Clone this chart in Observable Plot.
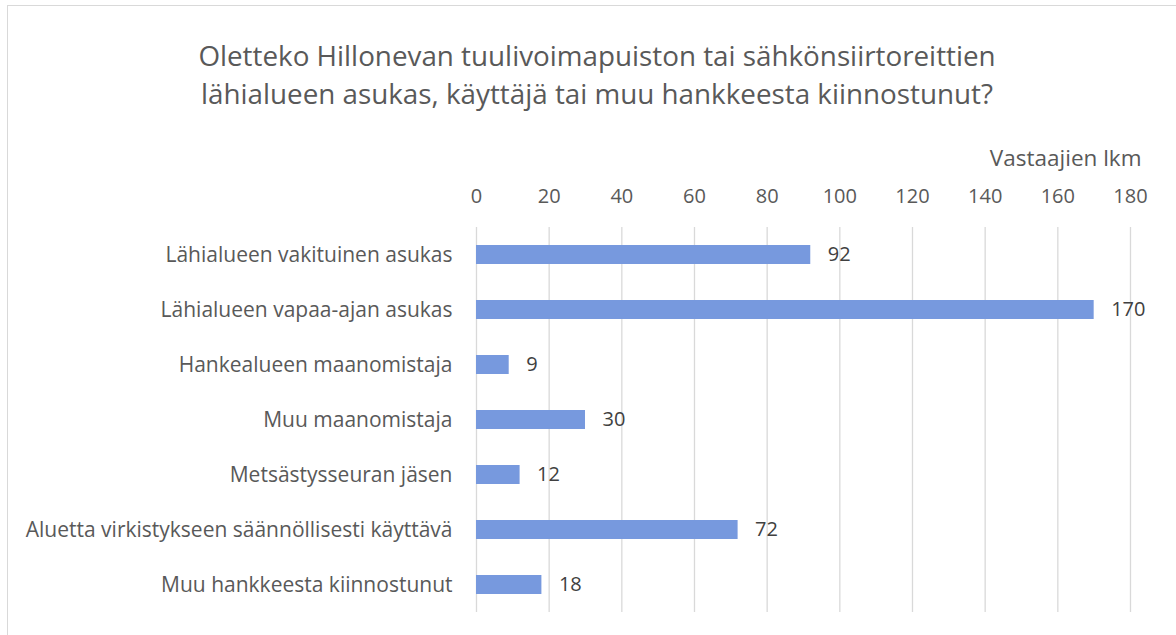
<!DOCTYPE html>
<html>
<head>
<meta charset="utf-8">
<script src="https://cdn.jsdelivr.net/npm/d3@7"></script>
<script src="https://cdn.jsdelivr.net/npm/@observablehq/plot@0.6"></script>
<style>
  html, body { margin: 0; padding: 0; background: #fff; overflow: hidden; width: 1176px; height: 635px; }
  #frame { position: absolute; left: 7px; top: 5px; width: 1300px; height: 700px; border: 1px solid #d9d9d9; box-sizing: border-box; }
  #title { position: absolute; left: 0; top: 35.5px; width: 1194px; text-align: center; font-family: "Open Sans", sans-serif; font-size: 27.8px; line-height: 38px; color: #595959; }
  #chart { position: absolute; left: 0; top: 130px; }
</style>
</head>
<body>
<div id="frame"></div>
<div id="title">Oletteko Hillonevan tuulivoimapuiston tai sähkönsiirtoreittien<br>lähialueen asukas, käyttäjä tai muu hankkeesta kiinnostunut?</div>
<div id="chart"></div>
<script>
const categories = [
  "Lähialueen vakituinen asukas",
  "Lähialueen vapaa-ajan asukas",
  "Hankealueen maanomistaja",
  "Muu maanomistaja",
  "Metsästysseuran jäsen",
  "Aluetta virkistykseen säännöllisesti käyttävä",
  "Muu hankkeesta kiinnostunut"
];
const values = [92, 170, 9, 30, 12, 72, 18];
const xTicks = [0, 20, 40, 60, 80, 100, 120, 140, 160, 180];
const axisLabel = "Vastaajien lkm";

const data = categories.map((c, i) => ({category: c, value: values[i]}));

const chart = Plot.plot({
  width: 1176,
  height: 505,
  marginTop: 97,
  marginBottom: 23,
  marginLeft: 476,
  marginRight: 46,
  style: {fontFamily: "'Open Sans', sans-serif", background: "transparent"},
  x: {domain: [0, 180]},
  y: {domain: categories, paddingInner: 0.65, paddingOuter: 0.325},
  marks: [
    Plot.gridX(xTicks, {stroke: "#d9d9d9", strokeOpacity: 1, strokeWidth: 1.3}),
    Plot.barX(data, {x: "value", y: "category", fill: "#7799de"}),
    Plot.text(data, {x: "value", y: "category", text: d => String(d.value), dx: 17, textAnchor: "start", fill: "#404040", fontSize: 20}),
    Plot.axisX({anchor: "top", ticks: xTicks, tickSize: 0, tickPadding: 25, fontSize: 20, color: "#595959", label: null}),
    Plot.axisY({tickSize: 0, tickPadding: 24, fontSize: 21, color: "#595959", label: null}),
    Plot.text([axisLabel], {frameAnchor: "top-right", dx: 11, dy: -69, textAnchor: "end", lineAnchor: "middle", fill: "#595959", fontSize: 22.5})
  ]
});
document.getElementById("chart").appendChild(chart);
</script>
</body>
</html>
